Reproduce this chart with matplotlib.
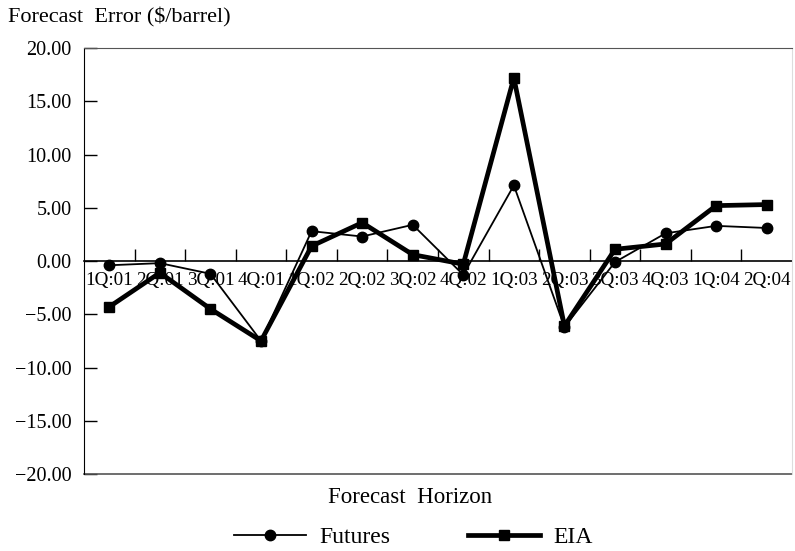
import matplotlib
matplotlib.use("Agg")
import matplotlib.pyplot as plt
import numpy as np

plt.rcParams['font.family'] = ['Liberation Serif', 'DejaVu Serif']

quarters = ["1Q:01", "2Q:01", "3Q:01", "4Q:01", "1Q:02", "2Q:02", "3Q:02",
            "4Q:02", "1Q:03", "2Q:03", "3Q:03", "4Q:03", "1Q:04", "2Q:04"]
futures = [-0.4, -0.2, -1.2, -7.5, 2.8, 2.3, 3.4, -1.3, 7.1, -6.2, -0.1, 2.6, 3.3, 3.1]
eia = [-4.3, -1.1, -4.5, -7.5, 1.4, 3.6, 0.6, -0.3, 17.2, -6.1, 1.1, 1.6, 5.2, 5.3]
yticks = [-20, -15, -10, -5, 0, 5, 10, 15, 20]

fig = plt.figure(figsize=(7.95, 5.51), dpi=100)
ax = fig.add_axes([0.1057, 0.1397, 0.8905, 0.7732])

x = np.arange(len(quarters))
ax.plot(x, futures, color='black', lw=1.3, marker='o', markersize=7.5, label='Futures',
        zorder=3)
ax.plot(x, eia, color='black', lw=3.4, marker='s', markersize=7.8, label='EIA', zorder=3)

ax.set_xlim(-0.5, len(quarters) - 0.5)
ax.set_ylim(-20, 20)
ax.set_yticks(yticks)
ax.set_yticklabels([f"{v:.2f}".replace('-', '\u2212') for v in yticks], fontsize=14.5)
ax.tick_params(axis='y', direction='in', length=9, width=1, pad=9)

# zero line carries the category axis
ax.spines['bottom'].set_position(('data', 0))
ax.spines['bottom'].set_linewidth(1.2)
ax.spines['bottom'].set_zorder(2)
ax.set_xticks(x)
ax.set_xticklabels(quarters, fontsize=13.8)
ax.set_xticks(np.arange(len(quarters) - 1) + 0.5, minor=True)
ax.tick_params(axis='x', which='major', length=0, pad=8)
ax.tick_params(axis='x', which='minor', direction='in', length=9, width=1)

ax.spines['top'].set_color('#555555')
ax.spines['right'].set_color('#dddddd')
ax.spines['left'].set_color('black')
# bottom frame line
ax.plot([0, 1], [0, 0], transform=ax.transAxes, color='#555555', lw=1.2, clip_on=False)

fig.text(0.010, 0.969, "Forecast  Error ($/barrel)", fontsize=16, ha='left', va='center')
fig.text(0.516, 0.098, "Forecast  Horizon", fontsize=16.5, ha='center', va='center')

leg = fig.legend(loc='center', bbox_to_anchor=(0.52, 0.025), ncol=2, frameon=False,
                 fontsize=17, handlelength=3.05, handletextpad=0.55, columnspacing=3.3)

fig.savefig("out.png", dpi=100)
